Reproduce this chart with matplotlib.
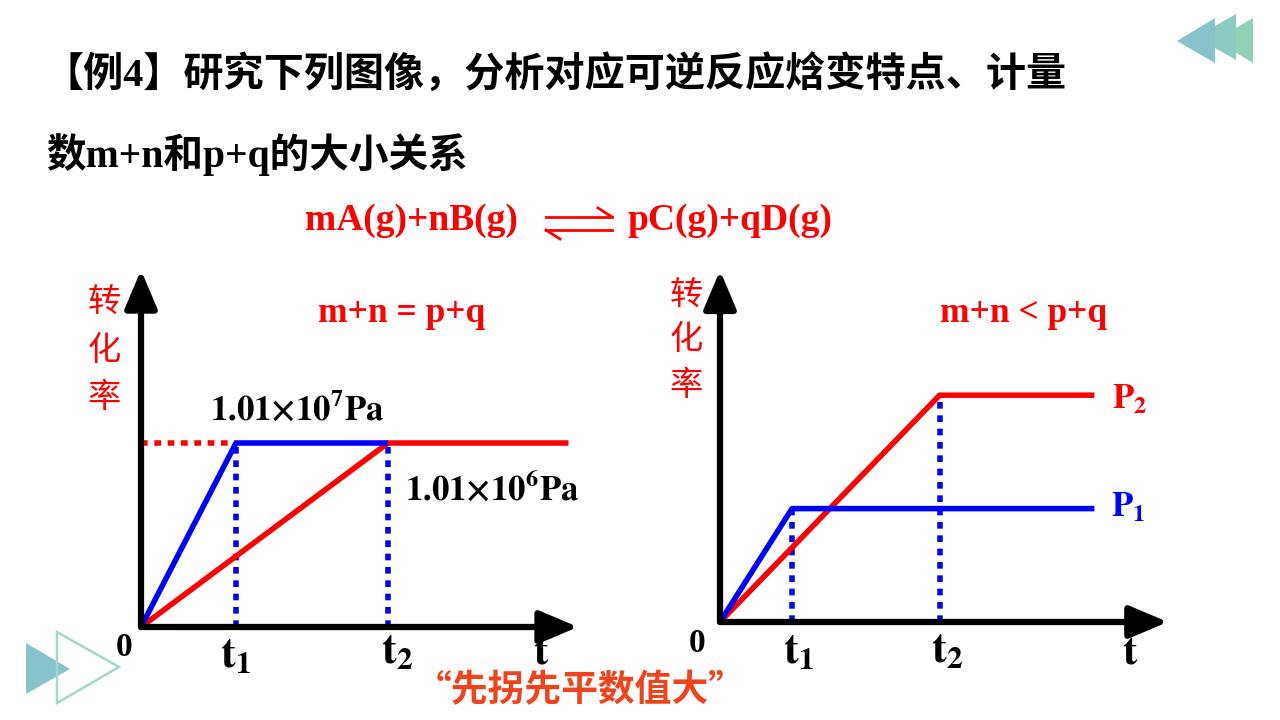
import matplotlib
matplotlib.use("Agg")
import matplotlib.pyplot as plt
from matplotlib.patches import Polygon
from matplotlib.lines import Line2D

plt.rcParams['font.family'] = ['Liberation Serif', 'Noto Sans CJK SC', 'DejaVu Sans']
plt.rcParams['mathtext.fontset'] = 'stix'

# left chart: same total moles, two pressures
left_t = [0, 1.0, 2.6, 4.5]          # t=0, t1, t2, end
left_hi_p = [0, 0.5, 0.5]            # 1.01x10^7 Pa, reaches equilibrium at t1
left_lo_p = [0, 0.5, 0.5]            # 1.01x10^6 Pa, reaches equilibrium at t2
# right chart: m+n < p+q
right_t = [0, 1.0, 3.05, 5.2]
right_p1 = [0, 0.3, 0.3]             # P1 (higher pressure, faster, lower conversion)
right_p2 = [0, 0.6, 0.6]             # P2

RED = '#ff0000'
BLUE = '#0000ff'
W, H = 1280, 720

fig = plt.figure(figsize=(12.8, 7.2), dpi=100)


def fx(x):
    return x / W


def fy(y):
    return 1 - y / H


def make_axes(x0, y0, px_x, px_y, xmax, ymax):
    ax = fig.add_axes([fx(x0), fy(y0), px_x * xmax / W, px_y * ymax / H])
    ax.set_xlim(0, xmax)
    ax.set_ylim(0, ymax)
    ax.axis('off')
    return ax


def draw_arrows(ax, xtip, ytip):
    for tip in [(xtip, 0), (0, ytip)]:
        ax.annotate('', xy=tip, xytext=(0, 0), annotation_clip=False,
                    arrowprops=dict(arrowstyle='-|>,head_length=1.3,head_width=0.55',
                                    lw=4.5, color='black', mutation_scale=18,
                                    shrinkA=0, shrinkB=0))


# ---- left chart ----
axL = make_axes(141, 627, 95, 368, 4.8, 1.0)
draw_arrows(axL, 4.6, 0.97)
t1, t2, tend = left_t[1], left_t[2], left_t[3]
plat = left_hi_p[1]
axL.plot([0, t1], [plat, plat], color=RED, lw=4, ls=(0, (1.2, 1.2)), clip_on=False)
axL.plot([t1, t1], [0, plat], color=BLUE, lw=4, ls=(0, (1.2, 1.2)), clip_on=False)
axL.plot([t2, t2], [0, plat], color=BLUE, lw=4, ls=(0, (1.2, 1.2)), clip_on=False)
axL.plot([0, t2, tend], left_lo_p, color=RED, lw=4, clip_on=False, solid_capstyle='butt')
axL.plot([0, t1, t2], left_hi_p, color=BLUE, lw=4, clip_on=False, solid_capstyle='butt')

# ---- right chart ----
axR = make_axes(720, 622, 72, 378, 6.4, 0.95)
draw_arrows(axR, 6.22, 0.93)
r1, r2, rend = right_t[1], right_t[2], right_t[3]
axR.plot([r1, r1], [0, right_p1[1]], color=BLUE, lw=4, ls=(0, (1.2, 1.2)), clip_on=False)
axR.plot([r2, r2], [0, right_p2[1]], color=BLUE, lw=4, ls=(0, (1.2, 1.2)), clip_on=False)
axR.plot([0, r2, rend], right_p2, color=RED, lw=4, clip_on=False, solid_capstyle='butt')
axR.plot([0, r1, rend], right_p1, color=BLUE, lw=4, clip_on=False, solid_capstyle='butt')


def txt(x, y, s, size, color='black', ha='left', weight='bold', family=None, va='center', **kw):
    fam = family if family else ['Liberation Serif', 'Noto Sans CJK SC', 'DejaVu Sans']
    fig.text(fx(x), fy(y), s, fontsize=size, color=color, ha=ha, va=va,
             fontweight=weight, family=fam, **kw)


# title
txt(44, 75, '【例4】研究下列图像，分析对应可逆反应焓变特点、计量', 28.9)
txt(46, 155, '数m+n和p+q的大小关系', 28.5)

# equation
txt(305, 220, 'mA(g)+nB(g)', 27, RED)
txt(628, 220, 'pC(g)+qD(g)', 27, RED)
# equilibrium harpoons
fig.add_artist(Line2D([fx(546), fx(612)], [fy(217), fy(217)], color=RED, lw=2))
fig.add_artist(Line2D([fx(612), fx(598)], [fy(217), fy(208)], color=RED, lw=2))
fig.add_artist(Line2D([fx(546), fx(612)], [fy(230), fy(230)], color=RED, lw=2))
fig.add_artist(Line2D([fx(546), fx(560)], [fy(230), fy(239)], color=RED, lw=2))

txt(318, 313, 'm+n = p+q', 25.5, RED)
txt(940, 313, 'm+n < p+q', 25.5, RED)

# y labels
for ch, yy in zip('转化率', [303, 350, 397]):
    txt(104, yy, ch, 24, RED, ha='center', weight='medium', family=['Noto Sans CJK SC'])
for ch, yy in zip('转化率', [296, 340, 385]):
    txt(686, yy, ch, 24, RED, ha='center', weight='medium', family=['Noto Sans CJK SC'])

# pressure labels
txt(210, 410, r'$\mathbf{1.01{\times}10^{7}Pa}$', 25)
txt(405, 490, r'$\mathbf{1.01{\times}10^{6}Pa}$', 25)
txt(1112, 400, r'$\mathbf{P_2}$', 25, RED)
txt(1111, 508, r'$\mathbf{P_1}$', 25, BLUE)

# axis labels
txt(124, 656, '0', 24, ha='center', va='baseline')
txt(697, 652, '0', 24, ha='center', va='baseline')
txt(236, 667, r'$\mathbf{t_1}$', 32, ha='center', va='baseline')
txt(397, 663, r'$\mathbf{t_2}$', 32, ha='center', va='baseline')
txt(541, 664, r'$\mathbf{t}$', 31, ha='center', va='baseline')
txt(799, 663, r'$\mathbf{t_1}$', 32, ha='center', va='baseline')
txt(947, 662, r'$\mathbf{t_2}$', 32, ha='center', va='baseline')
txt(1130, 663, r'$\mathbf{t}$', 31, ha='center', va='baseline')

# conclusion
txt(580, 691, '“先拐先平数值大”', 26.5, '#f0431c', ha='center',
    family=['Noto Sans CJK SC'])

# decorations
def tri(pts, **kw):
    fig.add_artist(Polygon([(fx(x), fy(y)) for x, y in pts], closed=True,
                           transform=fig.transFigure, **kw))


tri([(1253, 18), (1253, 63), (1215, 40)], facecolor='#93d1b6', edgecolor='none')
tri([(1236, 14), (1236, 60), (1196, 37)], facecolor='#8ccbc1', edgecolor='none')
tri([(1215, 18), (1215, 63), (1177, 41)], facecolor='#88c3cc', edgecolor='none')
tri([(26, 643), (26, 694), (70, 669)], facecolor='#86c3cb', edgecolor='none')
tri([(57, 632), (57, 703), (119, 667)], facecolor='none', edgecolor='#a6d8c6', lw=1.8)

fig.savefig('out.png', dpi=100)
